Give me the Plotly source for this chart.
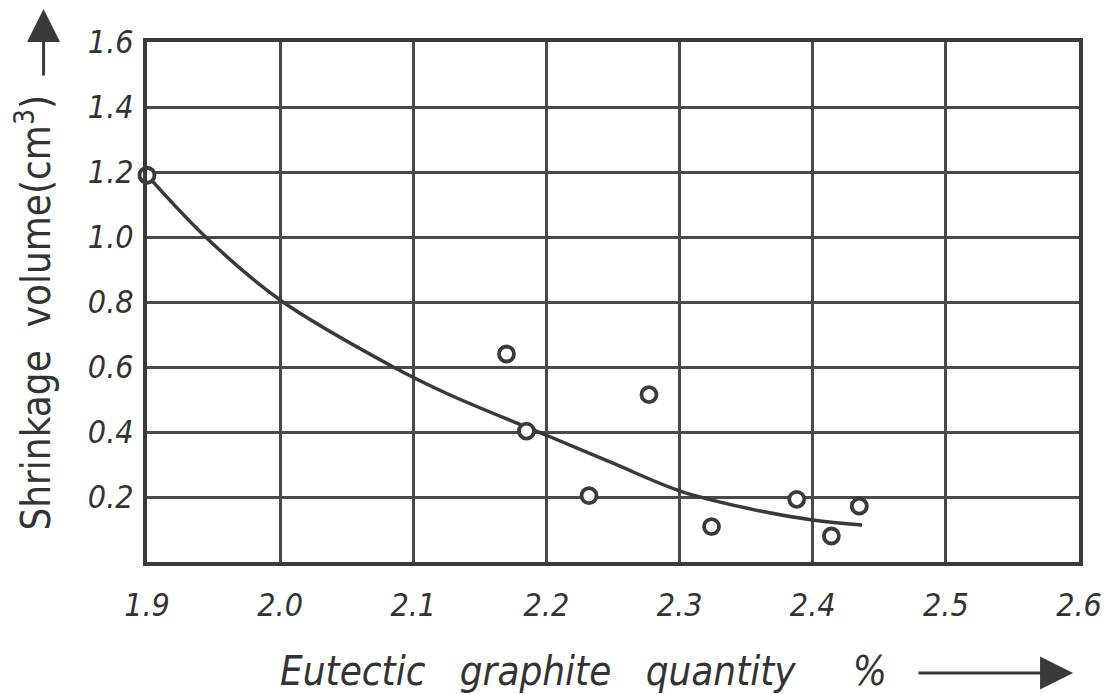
import plotly.graph_objects as go

# ---- data ----
x_ticks = [1.9, 2.0, 2.1, 2.2, 2.3, 2.4, 2.5, 2.6]
x_tick_labels = ["1.9", "2.0", "2.1", "2.2", "2.3", "2.4", "2.5", "2.6"]
y_ticks = [0.2, 0.4, 0.6, 0.8, 1.0, 1.2, 1.4, 1.6]
y_tick_labels = ["0.2", "0.4", "0.6", "0.8", "1.0", "1.2", "1.4", "1.6"]

meas_x = [1.900, 2.170, 2.185, 2.232, 2.277, 2.324, 2.388, 2.414, 2.435]
meas_y = [1.190, 0.640, 0.403, 0.204, 0.515, 0.109, 0.193, 0.080, 0.172]

curve_x = [1.900, 1.945, 2.000, 2.085, 2.126, 2.200, 2.250, 2.300, 2.350, 2.400, 2.437]
curve_y = [1.190, 0.996, 0.806, 0.600, 0.517, 0.390, 0.304, 0.219, 0.166, 0.129, 0.114]

INK = "#3a3a3a"
GRID = "#4a4a4a"
FONT = "DejaVu Sans Condensed, Liberation Sans Narrow, DejaVu Sans, sans-serif"

fig = go.Figure()
fig.add_trace(go.Scatter(
    x=curve_x, y=curve_y, mode="lines",
    line=dict(color=INK, width=3.5, shape="spline", smoothing=1.0),
    hoverinfo="skip", showlegend=False, cliponaxis=False))
fig.add_trace(go.Scatter(
    x=meas_x, y=meas_y, mode="markers",
    marker=dict(symbol="circle", size=15, color="white",
                line=dict(color=INK, width=3.8)),
    showlegend=False, cliponaxis=False))

tickfont = dict(family=FONT, size=32, color="#333333", style="italic")

fig.update_xaxes(
    range=[1.9, 2.6], tickvals=x_ticks, ticktext=x_tick_labels,
    showgrid=True, gridcolor=GRID, gridwidth=2.5,
    showline=True, linecolor=INK, linewidth=4, mirror=True,
    zeroline=False, ticks="", tickfont=tickfont, ticklabelstandoff=12)
fig.update_yaxes(
    range=[0, 1.6], tickvals=y_ticks, ticktext=y_tick_labels,
    showgrid=True, gridcolor=GRID, gridwidth=2.5,
    showline=True, linecolor=INK, linewidth=4, mirror=True,
    zeroline=False, ticks="", tickfont=tickfont, ticklabelstandoff=3)

nb = "\u00a0"
fig.update_layout(
    width=1114, height=694, autosize=False,
    margin=dict(l=147, r=30, t=42, b=132),
    paper_bgcolor="white", plot_bgcolor="white",
    annotations=[
        dict(text="Shrinkage" + nb * 2 + "volume(cm<sup>3</sup>)",
             xref="paper", yref="paper", x=(33 - 147) / 937, y=(562 - 313) / 520,
             xanchor="center", yanchor="middle",
             textangle=-90, showarrow=False,
             font=dict(family=FONT, size=40, color="#333333")),
        dict(text="", xref="paper", yref="paper",
             x=(43 - 147) / 937, y=(562 - 9) / 520,
             ax=0, ay=68, showarrow=True, arrowhead=2, arrowsize=2.2,
             arrowwidth=3, arrowcolor=INK),
        dict(text="Eutectic" + nb * 3 + "graphite" + nb * 3 + "quantity" + nb * 5 + "%",
             xref="paper", yref="paper", x=(586 - 147) / 937, y=(562 - 671) / 520,
             xanchor="center", yanchor="middle", showarrow=False,
             font=dict(family=FONT, size=40, color="#333333", style="italic")),
        dict(text="", xref="paper", yref="paper",
             x=(1078 - 147) / 937, y=(562 - 673) / 520,
             ax=-156, ay=0, showarrow=True, arrowhead=2, arrowsize=2.2,
             arrowwidth=3, arrowcolor=INK),
    ],
)

fig.write_html("out.html")
